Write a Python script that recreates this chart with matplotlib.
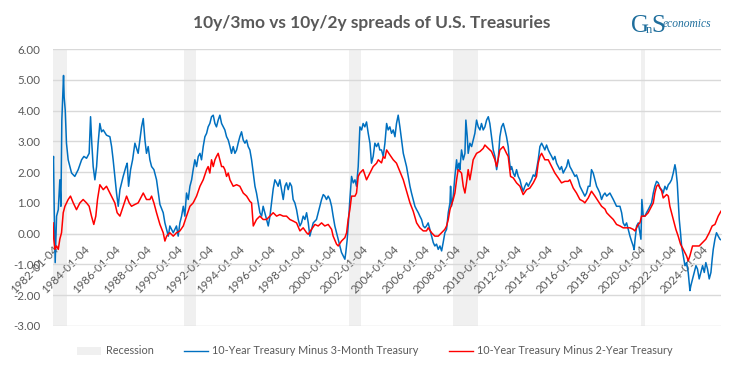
import matplotlib
matplotlib.use("Agg")
import matplotlib.pyplot as plt
import numpy as np
import pandas as pd
from matplotlib.patches import Patch
from matplotlib.lines import Line2D

plt.rcParams['font.family'] = ['Lato', 'DejaVu Sans']

# ---------------- data (decimal years, spread in %) ----------------
t3m_years = [
    1982.01, 1982.04, 1982.09, 1982.15, 1982.24, 1982.35, 1982.45, 1982.52, 1982.58, 1982.69,
    1982.73, 1982.80, 1982.88, 1982.99, 1983.10, 1983.21, 1983.42, 1983.64, 1983.86, 1984.01,
    1984.18, 1984.35, 1984.44, 1984.52, 1984.61, 1984.72, 1984.83, 1984.93, 1985.04, 1985.15,
    1985.26, 1985.47, 1985.69, 1985.80, 1985.90, 1986.01, 1986.12, 1986.23, 1986.34, 1986.55,
    1986.73, 1986.81, 1986.90, 1987.03, 1987.16, 1987.31, 1987.52, 1987.74, 1987.85, 1987.96,
    1988.06, 1988.17, 1988.28, 1988.39, 1988.54, 1988.71, 1988.93,
    1989.14, 1989.25, 1989.47, 1989.57, 1989.79, 1990.00, 1990.11, 1990.22, 1990.33, 1990.44,
    1990.54, 1990.65, 1990.76, 1990.87, 1990.98, 1991.08, 1991.19, 1991.30, 1991.41, 1991.52,
    1991.62, 1991.73, 1991.84, 1991.95, 1992.05, 1992.16, 1992.27, 1992.38, 1992.49, 1992.59,
    1992.70, 1992.81, 1992.92, 1993.03, 1993.13, 1993.24, 1993.35, 1993.46, 1993.56, 1993.67,
    1993.78, 1993.89, 1993.99, 1994.10, 1994.21, 1994.32, 1994.43, 1994.54, 1994.64, 1994.75,
    1994.86, 1994.97, 1995.08, 1995.18, 1995.29, 1995.40, 1995.51, 1995.61, 1995.72, 1995.83,
    1995.94, 1996.05, 1996.15,
    1996.26, 1996.37, 1996.48, 1996.58, 1996.69, 1996.80, 1996.91, 1997.02, 1997.12, 1997.23,
    1997.34, 1997.45, 1997.55, 1997.66, 1997.77, 1997.88, 1997.99, 1998.09, 1998.20, 1998.31,
    1998.42, 1998.53, 1998.63, 1998.74, 1998.85, 1999.06, 1999.17, 1999.28, 1999.39, 1999.50,
    1999.60, 1999.71, 1999.82, 1999.93, 2000.04, 2000.14, 2000.25, 2000.36, 2000.47, 2000.57,
    2000.68, 2000.79, 2000.90, 2000.96, 2001.05, 2001.14, 2001.22, 2001.33, 2001.44, 2001.55,
    2001.65, 2001.76, 2001.87, 2001.98, 2002.08, 2002.19, 2002.30, 2002.41, 2002.52, 2002.62,
    2002.73, 2002.84, 2002.95, 2003.06, 2003.16,
    2003.27, 2003.38, 2003.49, 2003.60, 2003.70, 2003.81, 2003.92, 2004.03, 2004.14, 2004.24,
    2004.35, 2004.46, 2004.57, 2004.68, 2004.78, 2004.89, 2005.00, 2005.11, 2005.21, 2005.32,
    2005.43, 2005.54, 2005.65, 2005.75, 2005.86, 2005.97, 2006.08, 2006.18, 2006.29, 2006.40,
    2006.51, 2006.62, 2006.72, 2006.83, 2006.94, 2007.05, 2007.16, 2007.26, 2007.37, 2007.48,
    2007.59, 2007.70, 2007.74, 2007.80, 2007.91, 2008.02, 2008.13, 2008.19, 2008.28, 2008.34,
    2008.45, 2008.56, 2008.67, 2008.73, 2008.82, 2008.88, 2008.99, 2009.10, 2009.20, 2009.31,
    2009.42, 2009.53, 2009.64, 2009.74, 2009.85, 2009.96, 2010.07, 2010.18, 2010.28, 2010.39,
    2010.50, 2010.61, 2010.72, 2010.82, 2010.93, 2011.04, 2011.15, 2011.26, 2011.36, 2011.47,
    2011.54, 2011.62, 2011.69, 2011.80, 2011.90, 2012.01, 2012.12, 2012.23, 2012.33, 2012.44,
    2012.55, 2012.66, 2012.77, 2012.87, 2012.98, 2013.09, 2013.20, 2013.30, 2013.41, 2013.52,
    2013.63, 2013.74, 2013.84, 2013.95, 2014.06, 2014.17, 2014.28, 2014.38, 2014.49, 2014.60,
    2014.71, 2014.81, 2014.92, 2015.03, 2015.14, 2015.25, 2015.35, 2015.46, 2015.57, 2015.68,
    2015.79, 2015.89, 2016.00, 2016.11, 2016.22, 2016.33, 2016.43, 2016.54, 2016.65, 2016.76,
    2016.86, 2016.97, 2017.08, 2017.19, 2017.30, 2017.40, 2017.51, 2017.62, 2017.73,
    2017.84, 2018.05, 2018.27, 2018.48, 2018.70, 2018.81, 2018.91, 2019.02, 2019.13, 2019.24,
    2019.35, 2019.45, 2019.56, 2019.62, 2019.67, 2019.78, 2019.89, 2019.99, 2020.06, 2020.12,
    2020.21, 2020.32, 2020.42, 2020.53, 2020.64, 2020.75, 2020.86, 2020.96, 2021.07, 2021.18,
    2021.29, 2021.40, 2021.50, 2021.61, 2021.72, 2021.83, 2021.93, 2022.04, 2022.15, 2022.26,
    2022.32, 2022.41, 2022.47, 2022.54, 2022.62, 2022.69, 2022.80, 2022.91, 2023.01, 2023.12,
    2023.23, 2023.29, 2023.40, 2023.51, 2023.62, 2023.72, 2023.83, 2023.94, 2024.05, 2024.16,
    2024.26, 2024.37, 2024.48, 2024.59, 2024.67, 2024.74, 2024.85, 2024.95, 2025.06, 2025.17,
    2025.24,
]
t3m_values = [
    2.29, 2.51, 0.68, -0.94, 0.57, 0.78, 1.75, 0.89, 3.69, 5.14,
    4.44, 4.01, 2.94, 2.40, 2.18, 1.97, 1.86, 2.08, 2.40, 2.51,
    2.45, 2.61, 3.80, 2.94, 2.18, 1.75, 2.18, 2.94, 3.58, 3.31,
    3.37, 3.20, 3.15, 2.83, 2.40, 1.86, 1.32, 0.89, 1.43, 1.86,
    2.18, 2.29, 1.54, 2.08, 2.40, 2.94, 2.61, 3.47, 3.74, 3.04,
    2.61, 2.83, 2.40, 2.18, 2.08, 1.75, 0.95,
    0.68, 0.35, -0.08, 0.25, 0.03, 0.25, -0.08, 0.35, 0.57, 0.89,
    0.57, 1.32, 1.11, 1.54, 1.75, 2.08, 2.40, 2.18, 2.51, 2.61,
    2.40, 2.83, 3.15, 3.26, 3.47, 3.58, 3.80, 3.85, 3.58, 3.47,
    3.69, 3.85, 3.58, 3.47, 3.37, 3.15, 3.04, 2.83, 2.61, 2.83,
    2.61, 2.72, 2.94, 3.15, 3.31, 3.04, 2.94, 3.04, 2.83, 2.72,
    2.40, 1.97, 1.54, 1.32, 1.00, 0.68, 0.57, 0.89, 0.68, 0.46,
    0.25, 0.57, 1.00,
    1.45, 1.75, 1.65, 1.54, 1.75, 1.43, 1.11, 1.54, 1.65, 1.43,
    1.65, 1.54, 1.11, 1.00, 0.78, 0.46, 0.25, 0.35, 0.57, 0.46,
    0.68, 0.35, -0.08, 0.14, 0.35, 0.46, 0.68, 0.89, 1.11, 1.27,
    1.22, 1.11, 1.22, 1.11, 0.89, 0.57, 0.25, 0.03, -0.18, -0.40,
    -0.61, -0.72, -0.83, -0.61, -0.18, 0.46, 1.11, 1.86, 1.65, 1.75,
    1.54, 2.18, 3.47, 3.37, 3.58, 3.47, 3.63, 3.26, 2.94, 2.29,
    2.51, 2.94, 2.83, 2.94, 2.72,
    2.72, 2.51, 2.94, 3.58, 3.37, 3.47, 3.26, 3.37, 3.15, 3.58,
    3.85, 3.47, 3.04, 2.61, 2.40, 2.18, 1.86, 1.54, 1.32, 1.11,
    0.89, 0.78, 0.68, 0.57, 0.46, 0.25, 0.19, 0.25, 0.35, 0.14,
    -0.08, -0.29, -0.40, -0.34, -0.51, -0.40, -0.56, -0.29, 0.03, 0.14,
    0.68, 1.00, 1.54, 0.89, 1.22, 1.86, 2.40, 2.08, 2.29, 2.08,
    2.72, 2.40, 2.61, 3.69, 3.15, 2.61, 2.94, 2.83, 3.04, 3.26,
    3.69, 3.47, 3.37, 3.58, 3.37, 3.47, 3.69, 3.80, 3.58, 3.15,
    2.72, 2.51, 2.08, 2.40, 3.15, 3.47, 3.58, 3.37, 3.15, 2.83,
    2.40, 2.08, 2.18, 1.97, 1.86, 2.08, 1.86, 1.75, 1.54, 1.38,
    1.54, 1.65, 1.54, 1.65, 1.75, 1.91, 1.86, 2.08, 2.40, 2.83,
    2.94, 2.83, 2.72, 2.88, 2.72, 2.61, 2.51, 2.40, 2.51, 2.29,
    2.18, 2.08, 2.18, 1.97, 2.08, 2.18, 2.40, 2.18, 2.08, 1.97,
    1.86, 1.91, 1.75, 1.54, 1.43, 1.32, 1.22, 1.32, 1.54, 1.54,
    2.08, 1.97, 1.75, 1.54, 1.43, 1.32, 1.11, 1.25, 1.32,
    1.22, 1.32, 1.11, 0.89, 0.89, 0.68, 0.35, 0.25, 0.35, 0.14,
    -0.08, -0.24, -0.40, -0.52, -0.24, 0.25, 0.35, 0.03, -0.18, 1.11,
    0.57, 0.57, 0.68, 0.78, 0.89, 1.00, 1.32, 1.54, 1.70, 1.65,
    1.48, 1.43, 1.32, 1.54, 1.43, 1.59, 1.65, 1.75, 1.97, 2.24,
    2.08, 1.65, 1.11, 0.46, 0.03, -0.40, -0.72, -1.04, -0.94, -1.26,
    -1.85, -1.69, -1.47, -1.26, -1.04, -1.15, -1.47, -1.26, -1.04, -1.26,
    -0.94, -1.15, -1.47, -1.26, -0.83, -0.51, -0.18, 0.03, -0.08, -0.18,
    -0.20,
]

t2y_years = [
    1982.01, 1982.06, 1982.13, 1982.24, 1982.35, 1982.45, 1982.56, 1982.67, 1982.78, 1982.99,
    1983.14, 1983.32, 1983.53, 1983.75, 1983.96, 1984.18, 1984.35, 1984.50, 1984.65, 1984.78,
    1984.89, 1985.04, 1985.26, 1985.47, 1985.69, 1985.90, 1986.01, 1986.16, 1986.34, 1986.55,
    1986.77, 1986.94, 1987.09, 1987.31, 1987.52, 1987.85, 1988.06, 1988.28, 1988.39, 1988.54,
    1988.71, 1988.93,
    1989.14, 1989.25, 1989.36, 1989.57, 1989.79, 1990.00, 1990.22, 1990.44, 1990.65, 1990.87,
    1991.08, 1991.30, 1991.52, 1991.73, 1991.95, 1992.05, 1992.16, 1992.27, 1992.38, 1992.49,
    1992.59, 1992.70, 1992.81, 1992.92, 1993.03, 1993.13, 1993.24, 1993.35, 1993.46, 1993.56,
    1993.67, 1993.89, 1994.10, 1994.21, 1994.32, 1994.54, 1994.75, 1994.86, 1994.97, 1995.18,
    1995.40, 1995.61, 1995.83, 1996.05,
    1996.26, 1996.48, 1996.69, 1996.91, 1997.12, 1997.34, 1997.55, 1997.77, 1997.99, 1998.20,
    1998.42, 1998.53, 1998.74, 1998.96, 1999.17, 1999.39, 1999.60, 1999.82, 2000.04, 2000.14,
    2000.36, 2000.47, 2000.68, 2000.90, 2001.01, 2001.11, 2001.22, 2001.33, 2001.55, 2001.65,
    2001.76, 2001.87, 2002.08, 2002.30, 2002.52, 2002.73, 2002.95, 2003.06, 2003.27,
    2003.38, 2003.49, 2003.60, 2003.81, 2004.03, 2004.24, 2004.46, 2004.68, 2004.89, 2005.11,
    2005.32, 2005.54, 2005.75, 2005.97, 2006.18, 2006.29, 2006.51, 2006.72, 2006.94, 2007.16,
    2007.37, 2007.48, 2007.59, 2007.70, 2007.91, 2008.02, 2008.13, 2008.23, 2008.45, 2008.56,
    2008.67, 2008.77, 2008.88, 2008.99, 2009.10, 2009.20, 2009.42, 2009.64, 2009.85, 2009.96,
    2010.18, 2010.39, 2010.61,
    2010.72, 2010.93, 2011.15, 2011.36, 2011.47, 2011.62, 2011.80, 2012.01, 2012.23, 2012.44,
    2012.66, 2012.87, 2013.09, 2013.30, 2013.41, 2013.52, 2013.63, 2013.84, 2014.06, 2014.28,
    2014.49, 2014.71, 2014.92, 2015.14, 2015.35, 2015.46, 2015.68, 2015.89, 2016.11, 2016.33,
    2016.43, 2016.65, 2016.86, 2017.08, 2017.30, 2017.51, 2017.73,
    2017.84, 2018.05, 2018.27, 2018.48, 2018.70, 2018.91, 2019.13, 2019.35, 2019.56, 2019.67,
    2019.89, 2019.99, 2020.10, 2020.32, 2020.53, 2020.75, 2020.86, 2020.96, 2021.07, 2021.18,
    2021.40, 2021.50, 2021.72, 2021.83, 2021.93, 2022.15, 2022.32, 2022.47, 2022.62, 2022.80,
    2023.01, 2023.12, 2023.23, 2023.40, 2023.62, 2023.83, 2024.05, 2024.26, 2024.48, 2024.67,
    2024.85, 2025.06, 2025.24,
]
t2y_values = [
    0.35, -0.18, -0.51, -0.40, -0.51, -0.18, 0.03, 0.68, 0.89, 1.11,
    1.22, 1.00, 0.78, 1.00, 1.11, 1.00, 0.89, 0.57, 0.30, 0.57,
    1.11, 1.59, 1.43, 1.54, 1.32, 1.11, 1.00, 0.68, 0.57, 0.89,
    1.22, 1.00, 0.89, 0.95, 1.00, 1.32, 1.11, 1.11, 1.22, 1.00,
    0.68, 0.30,
    0.03, -0.24, -0.08, 0.03, -0.08, 0.03, 0.09, 0.25, 0.57, 0.89,
    1.00, 1.22, 1.54, 1.75, 2.08, 2.18, 1.97, 2.40, 2.18, 2.40,
    2.51, 2.61, 2.40, 2.18, 2.18, 2.08, 1.86, 1.97, 1.75, 1.65,
    1.54, 1.59, 1.54, 1.43, 1.32, 1.22, 1.05, 1.00, 0.25, 0.46,
    0.57, 0.46, 0.46, 0.57,
    0.68, 0.57, 0.62, 0.57, 0.57, 0.46, 0.41, 0.35, 0.09, 0.19,
    0.03, -0.02, 0.14, 0.30, 0.25, 0.35, 0.25, 0.30, 0.14, -0.08,
    -0.34, -0.40, -0.24, -0.13, 0.03, 0.46, 0.78, 1.22, 1.22, 1.32,
    1.86, 1.97, 2.08, 1.75, 1.97, 2.18, 2.29, 2.40, 2.30,
    2.50, 2.45, 2.72, 2.56, 2.40, 2.29, 2.02, 1.75, 1.38, 1.00,
    0.73, 0.35, 0.19, 0.09, 0.09, 0.19, 0.03, -0.08, -0.08, 0.03,
    0.14, 0.25, 0.46, 0.78, 1.11, 1.32, 1.75, 2.08, 1.97, 1.54,
    1.32, 1.65, 2.08, 1.75, 2.08, 2.40, 2.61, 2.67, 2.77, 2.88,
    2.77, 2.67, 2.40,
    2.18, 2.72, 2.83, 2.61, 2.51, 1.86, 1.81, 1.65, 1.54, 1.27,
    1.43, 1.48, 1.65, 1.86, 2.29, 2.51, 2.61, 2.40, 2.40, 2.18,
    1.97, 1.81, 1.65, 1.70, 1.70, 1.75, 1.48, 1.32, 1.11, 1.05,
    1.00, 1.16, 1.38, 1.22, 1.05, 0.89, 0.80,
    0.68, 0.57, 0.46, 0.30, 0.25, 0.19, 0.19, 0.19, 0.14, 0.09,
    0.30, 0.35, 0.57, 0.57, 0.68, 0.89, 1.00, 1.32, 1.54, 1.59,
    1.38, 1.16, 1.27, 1.22, 0.89, 0.46, 0.14, -0.08, -0.34, -0.51,
    -0.72, -0.88, -0.72, -0.40, -0.40, -0.40, -0.29, -0.18, 0.03, 0.25,
    0.30, 0.57, 0.73,
]

recession_starts = ["1982-01-04", "1990-07-01", "2001-03-01", "2007-12-01", "2020-02-01"]
recession_ends = ["1982-11-30", "1991-03-31", "2001-11-30", "2009-06-30", "2020-04-30"]

tick_dates = [f"{y}-01-04" for y in range(1982, 2025, 2)]

series_labels = ["Recession",
                 "10-Year Treasury Minus 3-Month Treasury",
                 "10-Year Treasury Minus 2-Year Treasury"]
title = "10y/3mo vs 10y/2y spreads of U.S. Treasuries"


def to_dt(years):
    years = np.asarray(years, dtype=float)
    y = np.floor(years).astype(int)
    frac = years - y
    starts = pd.to_datetime([f"{yy}-01-01" for yy in y])
    return starts + pd.to_timedelta(frac * 365.25, unit="D")


BLUE = "#0070C0"
RED = "#FF0000"
GREY_TXT = "#595959"
GRID = "#D9D9D9"
REC = "#F0F0F0"

fig = plt.figure(figsize=(7.46, 3.72), dpi=100)
ax = fig.add_axes([53 / 746, 1 - 326 / 372, (721 - 53) / 746, (326 - 49) / 372])

for s, e in zip(recession_starts, recession_ends):
    ax.axvspan(pd.Timestamp(s), pd.Timestamp(e), color=REC, lw=0, zorder=0)

ax.plot(to_dt(t3m_years), t3m_values, color=BLUE, lw=1.1, zorder=3)
ax.plot(to_dt(t2y_years), t2y_values, color=RED, lw=1.1, zorder=4)

for sp in ['top', 'right', 'left']:
    ax.spines[sp].set_visible(False)
ax.spines['bottom'].set_position(('data', 0))
ax.spines['bottom'].set_color(GRID)
ax.spines['bottom'].set_zorder(1)

ax.set_ylim(-3, 6)
ax.set_yticks(np.arange(-3, 7, 1))
ax.set_yticklabels([f"{v:.2f}" for v in np.arange(-3, 7, 1)])
ax.set_xlim(pd.Timestamp("1982-01-04"), to_dt([2025.24])[0])
ax.grid(axis='y', color=GRID, lw=1.0, zorder=1)
ax.set_axisbelow(True)

ax.set_xticks(pd.to_datetime(tick_dates))
ax.set_xticklabels(tick_dates)

ax.tick_params(axis='both', length=0, colors=GREY_TXT, labelsize=8.3)
ax.tick_params(axis='y', pad=9)
ax.tick_params(axis='x', pad=7)
for lab in ax.get_xticklabels():
    lab.set_rotation(45)
    lab.set_ha('right')
    lab.set_va('top')
    lab.set_rotation_mode('anchor')

fig.text(372 / 746, 1 - 23 / 372, title, ha='center', va='center',
         fontsize=12.5, fontweight='bold', color=GREY_TXT)

# logo
LOGO = "#1F6E9C"
fig.text(631 / 746, 1 - 26 / 372, "G", ha='left', va='center', fontsize=18,
         color=LOGO, family=['Liberation Serif', 'DejaVu Serif'])
fig.text(645.5 / 746, 1 - 30 / 372, "n", ha='left', va='center', fontsize=9,
         color=LOGO, family=['Liberation Serif', 'DejaVu Serif'])
fig.text(651.5 / 746, 1 - 26 / 372, "S", ha='left', va='center', fontsize=18,
         color=LOGO, family=['Liberation Serif', 'DejaVu Serif'])
fig.text(663 / 746, 1 - 24 / 372, "economics", ha='left', va='center', fontsize=8.3,
         color=LOGO, style='italic', family=['Liberation Serif', 'DejaVu Serif'])

handles = [Patch(facecolor=REC, edgecolor='none'),
           Line2D([], [], color=BLUE, lw=1.0),
           Line2D([], [], color=RED, lw=1.0)]
leg = fig.legend(handles, series_labels, loc='center', bbox_to_anchor=(375 / 746, 1 - 351 / 372),
                 ncol=3, frameon=False, fontsize=7.8, handlelength=2.2, handletextpad=0.4,
                 columnspacing=2.8)
for t in leg.get_texts():
    t.set_color(GREY_TXT)

fig.savefig("out.png", dpi=100)
